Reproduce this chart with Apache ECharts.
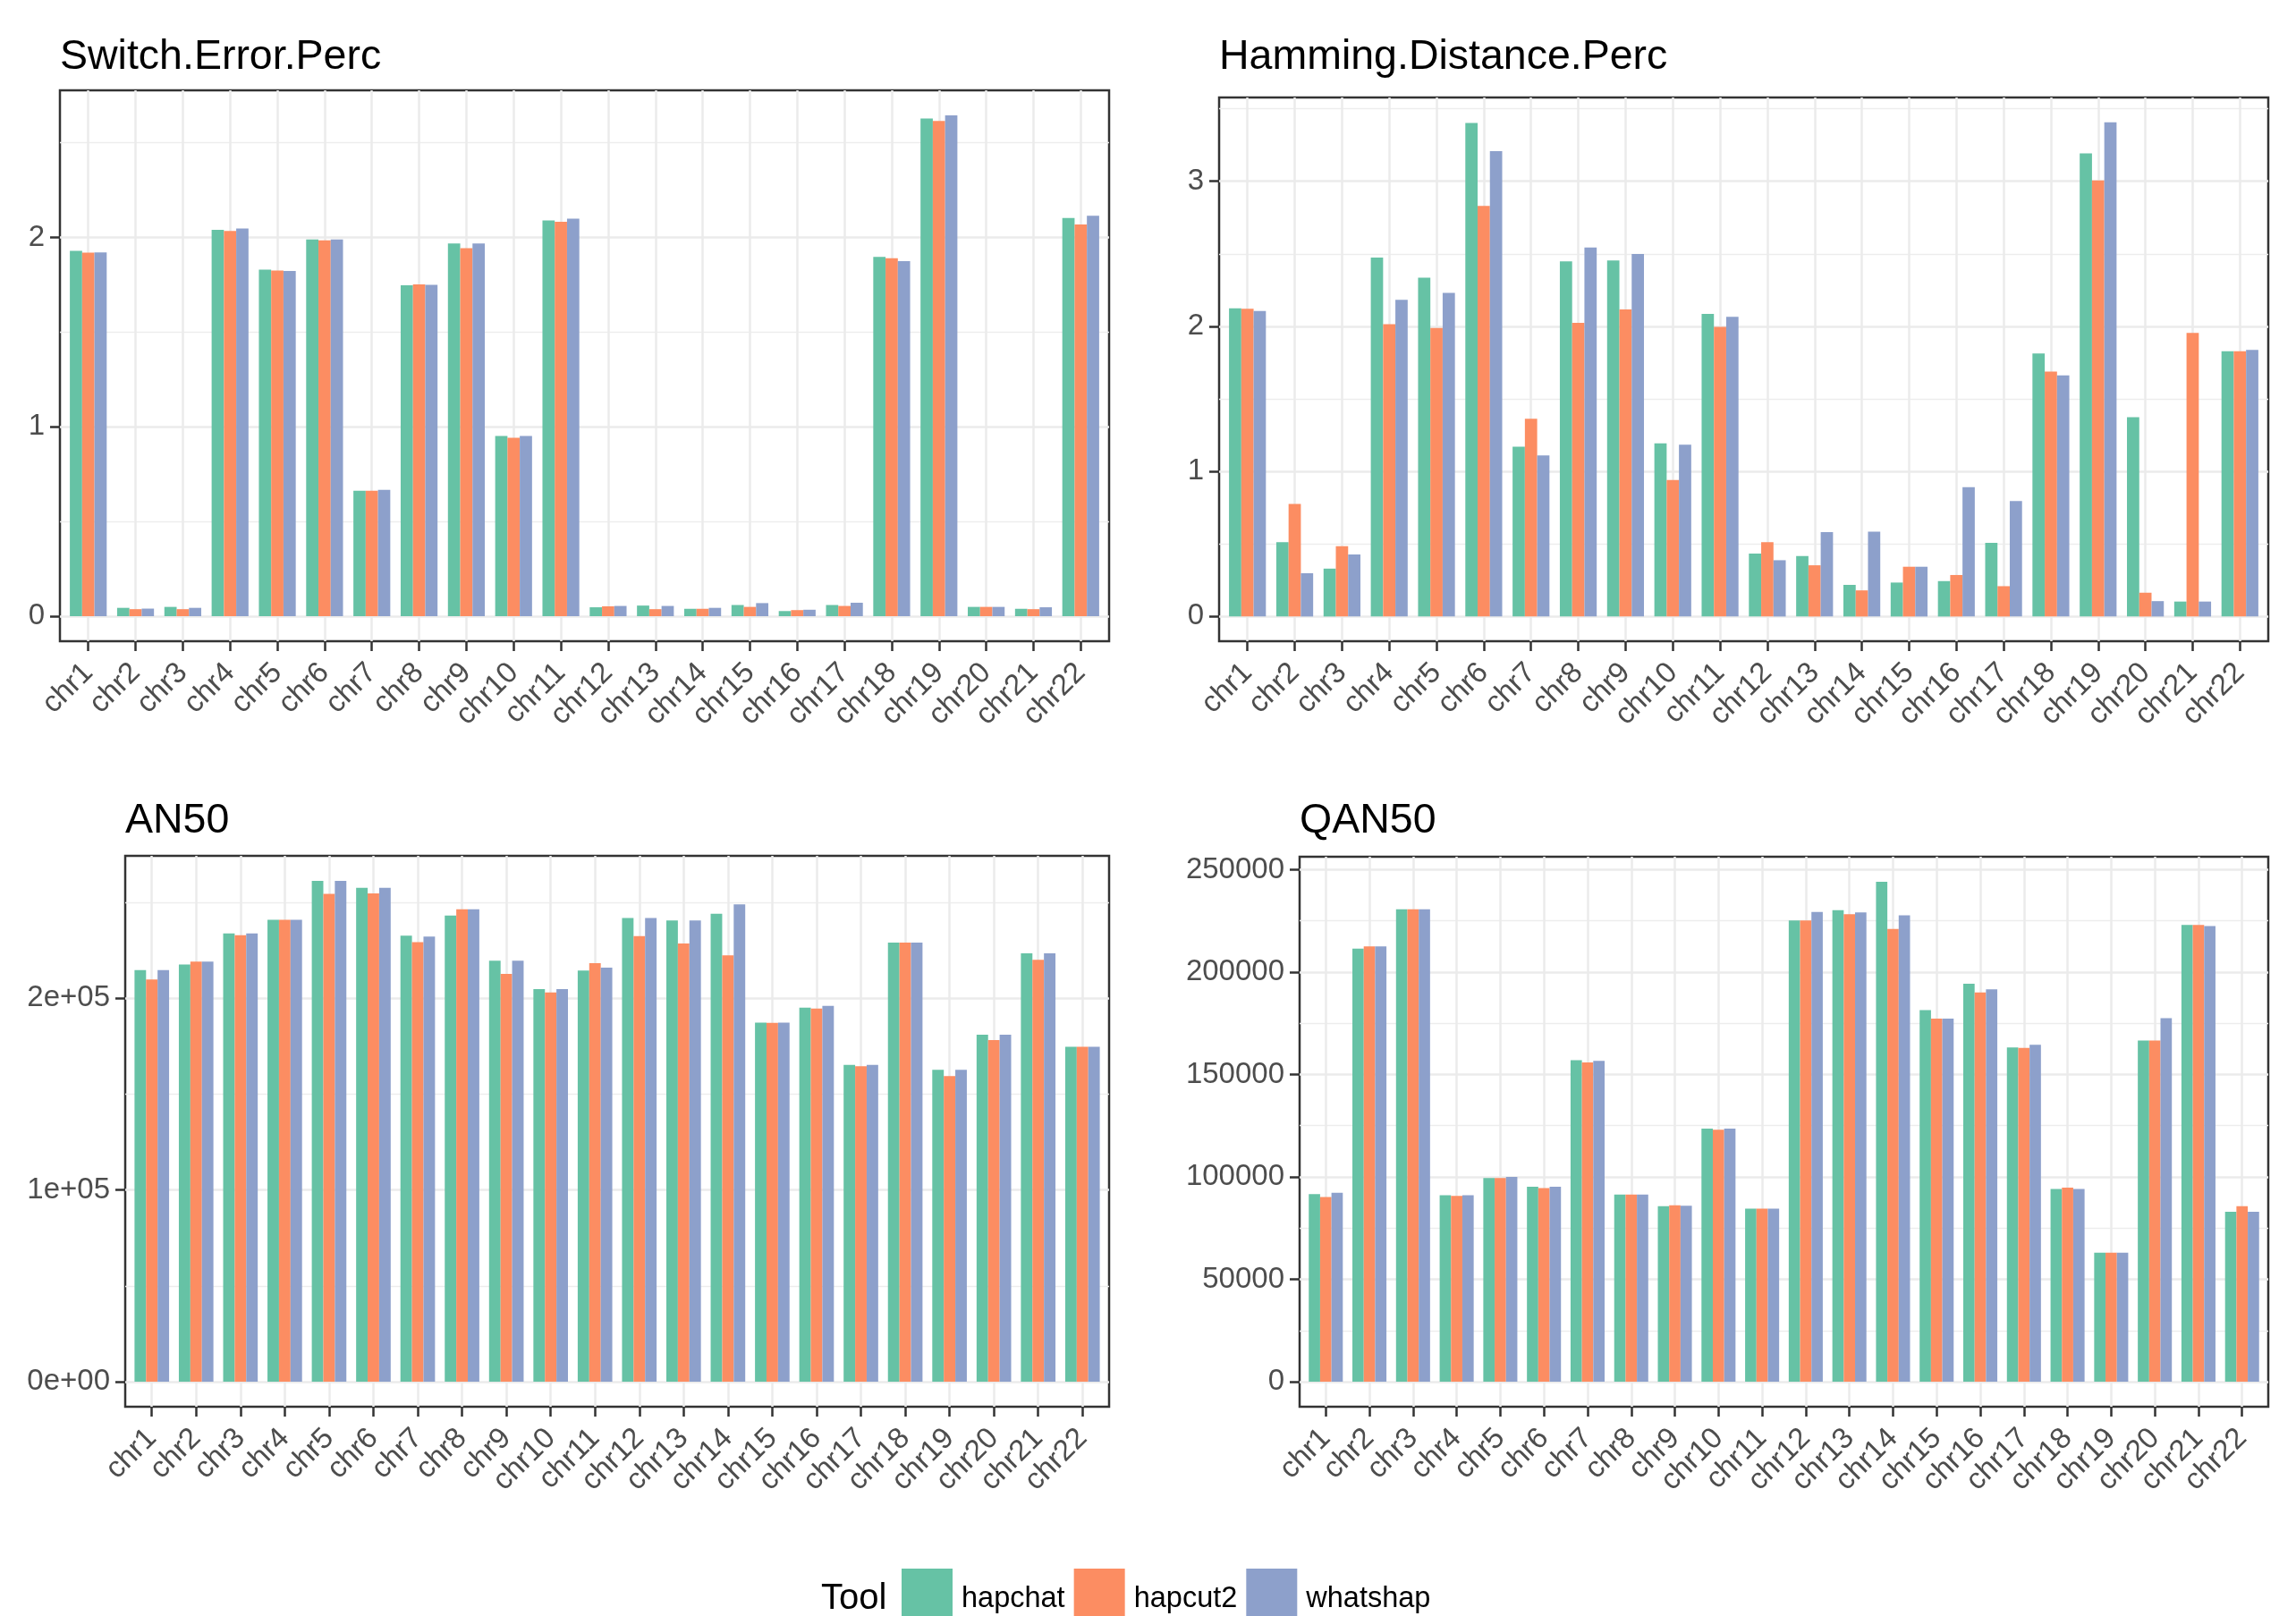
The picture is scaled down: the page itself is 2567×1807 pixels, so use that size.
<!DOCTYPE html>
<html>
<head>
<meta charset="utf-8">
<script src="https://cdn.jsdelivr.net/npm/echarts@6/dist/echarts.min.js"></script>
<style>
  html, body { margin: 0; padding: 0; background: #ffffff; }
  #chart { width: 2567px; height: 1807px; }
</style>
</head>
<body>
<div id="chart"></div>
<script>
// Phasing accuracy per chromosome for three phasing tools.
const chromosomes = ['chr1','chr2','chr3','chr4','chr5','chr6','chr7','chr8','chr9','chr10','chr11',
  'chr12','chr13','chr14','chr15','chr16','chr17','chr18','chr19','chr20','chr21','chr22'];
const tools = ['hapchat', 'hapcut2', 'whatshap'];

// Switch.Error.Perc
const switchHapchat  = [1.930,0.044,0.049,2.040,1.830,1.990,0.663,1.747,1.968,0.952,2.090,0.047,0.056,0.039,0.059,0.027,0.059,1.897,2.628,0.049,0.039,2.103];
const switchHapcut2  = [1.920,0.037,0.037,2.034,1.826,1.985,0.663,1.752,1.944,0.942,2.083,0.052,0.037,0.039,0.049,0.032,0.054,1.890,2.616,0.049,0.037,2.069];
const switchWhatshap = [1.921,0.040,0.044,2.047,1.823,1.990,0.667,1.750,1.968,0.952,2.100,0.054,0.054,0.044,0.069,0.034,0.071,1.875,2.645,0.049,0.047,2.115];

// Hamming.Distance.Perc
const hammingHapchat  = [2.124,0.513,0.330,2.474,2.336,3.401,1.171,2.448,2.454,1.193,2.085,0.433,0.417,0.218,0.234,0.244,0.507,1.813,3.192,1.373,0.103,1.829];
const hammingHapcut2  = [2.121,0.776,0.484,2.015,1.989,2.830,1.363,2.024,2.117,0.940,1.996,0.513,0.353,0.180,0.343,0.286,0.209,1.688,3.006,0.164,1.954,1.829];
const hammingWhatshap = [2.105,0.298,0.427,2.182,2.230,3.208,1.110,2.544,2.499,1.184,2.066,0.388,0.581,0.584,0.343,0.892,0.796,1.662,3.407,0.106,0.103,1.838];

// AN50
const an50Hapchat  = [214800,217700,233900,241000,261300,257700,232700,243200,219600,204800,214500,241900,240700,244100,187400,195200,165300,229100,162700,181100,223500,174800];
const an50Hapcut2  = [209900,219200,233000,241000,254500,254800,229300,246500,212800,203100,218400,232500,228600,222500,187200,194700,164600,229100,159500,178200,220100,174800];
const an50Whatshap = [214800,219200,233900,241000,261300,257700,232200,246500,219600,204800,216000,241900,240700,249000,187400,196100,165300,229100,162700,181100,223500,174800];

// QAN50
const qan50Hapchat  = [91600,211400,230700,91100,99500,95200,157000,91400,85700,123600,84500,225200,230200,244100,181400,194300,163200,94100,63000,166600,223000,83000];
const qan50Hapcut2  = [90200,212500,230700,90700,99500,94500,155900,91400,86100,123000,84500,225200,228200,221100,177300,190000,163000,94800,63000,166600,223000,85700];
const qan50Whatshap = [92300,212500,230700,91100,100000,95200,156600,91400,85900,123600,84500,229300,229100,227700,177300,191600,164500,94100,63000,177500,222500,83000];

// Y axis breaks and their labels
const switchTicks = [0, 1, 2];
const switchTickLabels = ['0', '1', '2'];
const switchMinor = [0.5, 1.5, 2.5];
const hammingTicks = [0, 1, 2, 3];
const hammingTickLabels = ['0', '1', '2', '3'];
const hammingMinor = [0.5, 1.5, 2.5, 3.5];
const an50Ticks = [0, 100000, 200000];
const an50TickLabels = ['0e+00', '1e+05', '2e+05'];
const an50Minor = [50000, 150000, 250000];
const qan50Ticks = [0, 50000, 100000, 150000, 200000, 250000];
const qan50TickLabels = ['0', '50000', '100000', '150000', '200000', '250000'];
const qan50Minor = [25000, 75000, 125000, 175000, 225000];

const FONT = '"Liberation Sans", Arial, Helvetica, sans-serif';
const toolColors = ['#66C2A5', '#FC8D62', '#8DA0CB'];

const panels = [
  { title: 'Switch.Error.Perc', values: [switchHapchat, switchHapcut2, switchWhatshap],
    ticks: switchTicks, labels: switchTickLabels, minor: switchMinor,
    box: { left: 67, top: 101, right: 1240, bottom: 717 }, titleTop: 41 },
  { title: 'Hamming.Distance.Perc', values: [hammingHapchat, hammingHapcut2, hammingWhatshap],
    ticks: hammingTicks, labels: hammingTickLabels, minor: hammingMinor,
    box: { left: 1363, top: 109, right: 2536, bottom: 717 }, titleTop: 41 },
  { title: 'AN50', values: [an50Hapchat, an50Hapcut2, an50Whatshap],
    ticks: an50Ticks, labels: an50TickLabels, minor: an50Minor,
    box: { left: 140, top: 957, right: 1240, bottom: 1573 }, titleTop: 895 },
  { title: 'QAN50', values: [qan50Hapchat, qan50Hapcut2, qan50Whatshap],
    ticks: qan50Ticks, labels: qan50TickLabels, minor: qan50Minor,
    box: { left: 1453, top: 958, right: 2536, bottom: 1573 }, titleTop: 895 }
];

const chrIndex = chromosomes.map((c, i) => i + 1);

const grid = [], xAxis = [], yAxis = [], series = [], title = [];

panels.forEach((p, pi) => {
  const b = p.box;
  grid.push({
    left: b.left, top: b.top, width: b.right - b.left, height: b.bottom - b.top,
    show: true, backgroundColor: '#ffffff', borderColor: '#333333', borderWidth: 2.5
  });
  title.push({
    text: p.title, left: b.left, top: p.titleTop, padding: 0,
    textStyle: { fontFamily: FONT, fontSize: 46.5, fontWeight: 'normal', color: '#000000' }
  });

  // 5% padding above the tallest bar and below zero
  const maxVal = Math.max(...p.values.flat());
  const yMin = -0.05 * maxVal;
  const yMax = 1.05 * maxVal;

  xAxis.push({
    type: 'value', gridIndex: pi, min: 0.4, max: 22.6,
    axisLine: { show: false, onZero: false },
    axisTick: { show: true, customValues: chrIndex, length: 11, lineStyle: { color: '#333333', width: 2.5 } },
    axisLabel: {
      show: true, customValues: chrIndex, rotate: 45, margin: 30,
      fontFamily: FONT, fontSize: 33, color: '#4D4D4D',
      formatter: v => chromosomes[Math.round(v) - 1]
    },
    splitLine: { show: true, lineStyle: { color: '#EBEBEB', width: 2.5 } }
  });

  // major breaks with labels
  yAxis.push({
    type: 'value', gridIndex: pi, min: yMin, max: yMax,
    axisLine: { show: false, onZero: false },
    axisTick: { show: true, customValues: p.ticks, length: 11, lineStyle: { color: '#333333', width: 2.5 } },
    axisLabel: {
      show: true, customValues: p.ticks, margin: 17,
      fontFamily: FONT, fontSize: 33, color: '#4D4D4D',
      formatter: v => {
        const k = p.ticks.findIndex(t => Math.abs(t - v) < 1e-9 * Math.max(1, Math.abs(t)));
        return k >= 0 ? p.labels[k] : '';
      }
    },
    splitLine: { show: true, lineStyle: { color: '#EBEBEB', width: 2.5 } },
    z: 1
  });
  // minor breaks (grid lines only)
  yAxis.push({
    type: 'value', gridIndex: pi, min: yMin, max: yMax, position: 'left',
    axisLine: { show: false, onZero: false },
    axisTick: { show: false, customValues: p.minor },
    axisLabel: { show: false },
    splitLine: { show: true, lineStyle: { color: '#EDEDED', width: 1.4 } },
    z: 0
  });

  const yIdx = pi * 2;
  tools.forEach((tool, ti) => {
    series.push({
      type: 'bar', name: tool, xAxisIndex: pi, yAxisIndex: yIdx,
      barWidth: '26%', barGap: '0%',
      itemStyle: { color: toolColors[ti] },
      emphasis: { disabled: true },
      data: p.values[ti].map((v, i) => [chrIndex[i], v])
    });
  });
});

const chart = echarts.init(document.getElementById('chart'), null, { renderer: 'canvas' });
chart.setOption({
  backgroundColor: '#ffffff',
  animation: false,
  title,
  grid, xAxis, yAxis, series,
  legend: {
    data: tools, left: 1008, top: 1754, orient: 'horizontal', padding: 0,
    icon: 'rect', itemWidth: 57, itemHeight: 58, itemGap: 10,
    selectedMode: false,
    formatter: name => '{t|' + name + '}',
    textStyle: {
      fontFamily: FONT, fontSize: 32.5, color: '#000000',
      rich: { t: { fontFamily: FONT, fontSize: 32.5, color: '#000000', padding: [10, 0, 0, 5] } }
    }
  },
  graphic: [{
    type: 'text', x: 918, y: 1788,
    style: { text: 'Tool', font: '40px "Liberation Sans", Arial, sans-serif', fill: '#000000', verticalAlign: 'middle' }
  }]
});
</script>
</body>
</html>
